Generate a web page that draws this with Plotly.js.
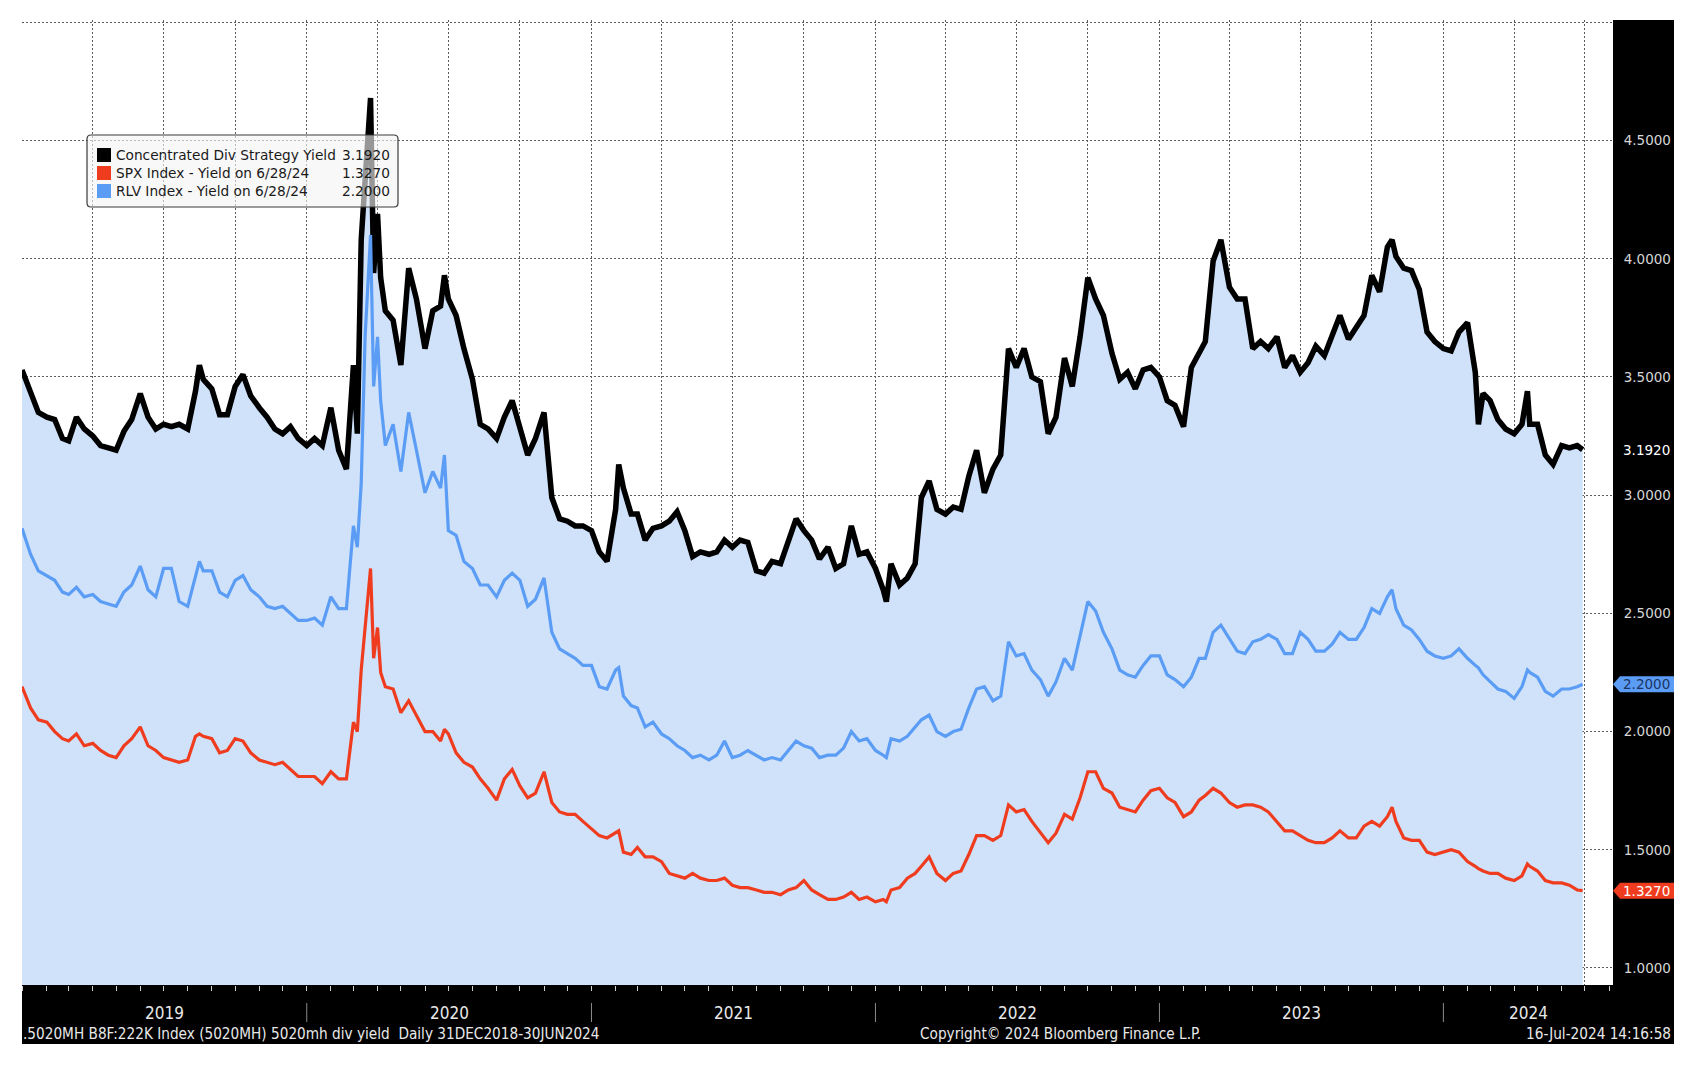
<!DOCTYPE html>
<html>
<head>
<meta charset="utf-8">
<script src="https://cdn.plot.ly/plotly-3.0.1.min.js"></script>
<style>
  html, body { margin: 0; padding: 0; background: #fff; }
  #chart { width: 1696px; height: 1071px; }
</style>
</head>
<body>
<div id="chart"></div>
<script>
// sample dates (roughly every 10 days, extra points on the spikes)
const dates = [
  '2018-12-31','2019-01-11','2019-01-21','2019-02-01','2019-02-11','2019-02-21','2019-03-01','2019-03-11','2019-03-21','2019-04-01',
  '2019-04-11','2019-04-21','2019-05-01','2019-05-11','2019-05-21','2019-06-01','2019-06-11','2019-06-21','2019-07-01','2019-07-11',
  '2019-07-21','2019-08-01','2019-08-11','2019-08-16','2019-08-21','2019-09-01','2019-09-11','2019-09-21','2019-10-01','2019-10-11',
  '2019-10-21','2019-11-01','2019-11-11','2019-11-21','2019-12-01','2019-12-11','2019-12-21',
  '2020-01-01','2020-01-11','2020-01-21','2020-02-01','2020-02-11','2020-02-21','2020-03-01','2020-03-06','2020-03-11','2020-03-16',
  '2020-03-23','2020-03-27','2020-04-01','2020-04-05','2020-04-11','2020-04-21','2020-05-01','2020-05-11','2020-05-21','2020-06-01',
  '2020-06-11','2020-06-21','2020-06-26','2020-07-01','2020-07-11','2020-07-21','2020-08-01','2020-08-11','2020-08-21','2020-09-01',
  '2020-09-11','2020-09-21','2020-10-01','2020-10-11','2020-10-21','2020-11-01','2020-11-11','2020-11-21','2020-12-01','2020-12-11',
  '2020-12-21',
  '2021-01-01','2021-01-11','2021-01-21','2021-02-01','2021-02-05','2021-02-11','2021-02-21','2021-03-01','2021-03-11','2021-03-21',
  '2021-04-01','2021-04-11','2021-04-21','2021-05-01','2021-05-11','2021-05-21','2021-06-01','2021-06-11','2021-06-21','2021-07-01',
  '2021-07-11','2021-07-21','2021-08-01','2021-08-11','2021-08-21','2021-09-01','2021-09-11','2021-09-21','2021-10-01','2021-10-11',
  '2021-10-21','2021-11-01','2021-11-11','2021-11-21','2021-12-01','2021-12-11','2021-12-21',
  '2022-01-01','2022-01-11','2022-01-15','2022-01-21','2022-02-01','2022-02-11','2022-02-21','2022-03-01','2022-03-11','2022-03-21',
  '2022-04-01','2022-04-11','2022-04-21','2022-05-01','2022-05-11','2022-05-21','2022-06-01','2022-06-11','2022-06-21','2022-07-01',
  '2022-07-11','2022-07-21','2022-08-01','2022-08-11','2022-08-21','2022-09-01','2022-09-11','2022-09-21','2022-10-01','2022-10-11',
  '2022-10-21','2022-11-01','2022-11-11','2022-11-21','2022-12-01','2022-12-11','2022-12-21',
  '2023-01-01','2023-01-11','2023-01-21','2023-02-01','2023-02-11','2023-02-21','2023-03-01','2023-03-11','2023-03-21','2023-04-01',
  '2023-04-11','2023-04-21','2023-05-01','2023-05-11','2023-05-21','2023-06-01','2023-06-11','2023-06-21','2023-07-01','2023-07-11',
  '2023-07-21','2023-08-01','2023-08-11','2023-08-21','2023-09-01','2023-09-11','2023-09-21','2023-10-01','2023-10-11','2023-10-21',
  '2023-10-27','2023-11-01','2023-11-11','2023-11-21','2023-12-01','2023-12-11','2023-12-21',
  '2024-01-01','2024-01-11','2024-01-21','2024-02-01','2024-02-11','2024-02-15','2024-02-21','2024-03-01','2024-03-11','2024-03-21',
  '2024-04-01','2024-04-11','2024-04-18','2024-04-21','2024-05-01','2024-05-11','2024-05-21','2024-06-01','2024-06-11','2024-06-21',
  '2024-06-28'
];

// Concentrated Div Strategy Yield
const stratYield = [
  3.53,3.43,3.35,3.33,3.32,3.24,3.23,3.33,3.28,3.25, 3.21,3.20,3.19,3.27,3.32,3.43,3.33,3.28,3.30,3.29,
  3.30,3.28,3.44,3.55,3.49,3.45,3.34,3.34,3.46,3.51, 3.42,3.37,3.33,3.28,3.26,3.29,3.24,
  3.21,3.24,3.21,3.37,3.19,3.11,3.55,3.26,4.08,4.30, 4.68,3.94,4.19,3.92,3.78,3.74,3.55,3.96,3.83,3.62,
  3.78,3.80,3.93,3.83,3.76,3.62,3.49,3.30,3.28,3.24, 3.33,3.40,3.29,3.17,3.24,3.35,2.99,2.90,2.89,2.87,
  2.87,
  2.85,2.76,2.72,2.94,3.13,3.03,2.92,2.92,2.81,2.86, 2.87,2.89,2.93,2.85,2.74,2.76,2.75,2.76,2.81,2.78,
  2.81,2.80,2.68,2.67,2.72,2.71,2.81,2.90,2.85,2.81, 2.73,2.78,2.69,2.71,2.87,2.75,2.76,
  2.69,2.60,2.55,2.71,2.62,2.65,2.71,2.99,3.06,2.94, 2.92,2.95,2.94,3.08,3.19,3.01,3.11,3.17,3.62,3.54,
  3.62,3.50,3.48,3.26,3.33,3.58,3.46,3.67,3.92,3.83, 3.76,3.60,3.49,3.52,3.45,3.53,3.54,
  3.50,3.40,3.38,3.29,3.54,3.60,3.65,3.99,4.08,3.88, 3.83,3.83,3.62,3.65,3.62,3.67,3.54,3.59,3.52,3.56,
  3.63,3.59,3.68,3.76,3.66,3.71,3.76,3.93,3.86,4.05, 4.08,4.01,3.96,3.95,3.87,3.69,3.65,
  3.62,3.61,3.69,3.73,3.52,3.30,3.43,3.40,3.32,3.28, 3.26,3.30,3.44,3.30,3.30,3.17,3.13,3.21,3.20,3.21,
  3.192
];

// SPX Index - Yield
const spxYield = [
  2.19,2.10,2.05,2.04,2.00,1.97,1.96,1.99,1.94,1.95, 1.92,1.90,1.89,1.94,1.97,2.02,1.94,1.92,1.89,1.88,
  1.87,1.88,1.98,1.99,1.98,1.97,1.91,1.92,1.97,1.96, 1.91,1.88,1.87,1.86,1.87,1.84,1.81,
  1.81,1.81,1.78,1.83,1.80,1.80,2.04,2.00,2.26,2.44, 2.69,2.31,2.44,2.25,2.19,2.18,2.08,2.13,2.07,2.00,
  2.00,1.96,2.01,1.99,1.91,1.87,1.85,1.80,1.76,1.71, 1.80,1.84,1.77,1.72,1.74,1.83,1.70,1.66,1.65,1.65,
  1.62,
  1.59,1.56,1.55,1.57,1.58,1.49,1.48,1.51,1.47,1.47, 1.45,1.40,1.39,1.38,1.40,1.38,1.37,1.37,1.38,1.35,
  1.34,1.34,1.33,1.32,1.32,1.31,1.33,1.34,1.37,1.33, 1.31,1.29,1.29,1.30,1.32,1.29,1.30,
  1.28,1.29,1.28,1.33,1.34,1.38,1.40,1.43,1.47,1.40, 1.37,1.40,1.41,1.48,1.56,1.56,1.54,1.56,1.69,1.66,
  1.67,1.62,1.57,1.53,1.57,1.65,1.63,1.72,1.83,1.83, 1.76,1.74,1.68,1.67,1.66,1.71,1.75,
  1.76,1.72,1.70,1.64,1.66,1.71,1.73,1.76,1.74,1.70, 1.68,1.69,1.69,1.68,1.66,1.62,1.58,1.58,1.56,1.54,
  1.53,1.53,1.55,1.58,1.55,1.55,1.60,1.62,1.60,1.64, 1.68,1.62,1.55,1.54,1.54,1.49,1.48,
  1.49,1.50,1.49,1.45,1.43,1.42,1.41,1.40,1.40,1.38, 1.37,1.39,1.44,1.43,1.41,1.37,1.36,1.36,1.35,1.33,
  1.327
];

// RLV Index - Yield
const rlvYield = [
  2.86,2.75,2.68,2.66,2.64,2.59,2.58,2.61,2.57,2.58, 2.55,2.54,2.53,2.59,2.62,2.70,2.60,2.57,2.69,2.69,
  2.55,2.53,2.66,2.72,2.68,2.68,2.59,2.57,2.64,2.66, 2.60,2.57,2.53,2.52,2.53,2.50,2.47,
  2.47,2.48,2.45,2.57,2.52,2.52,2.87,2.78,3.05,3.67, 4.10,3.46,3.67,3.40,3.21,3.30,3.10,3.35,3.19,3.01,
  3.10,3.03,3.17,2.85,2.83,2.72,2.69,2.62,2.62,2.57, 2.64,2.67,2.64,2.53,2.56,2.65,2.42,2.35,2.33,2.31,
  2.28,
  2.28,2.19,2.18,2.26,2.27,2.15,2.11,2.10,2.02,2.04, 1.99,1.97,1.94,1.92,1.89,1.90,1.88,1.90,1.96,1.89,
  1.90,1.92,1.90,1.88,1.89,1.88,1.92,1.96,1.94,1.93, 1.89,1.90,1.90,1.93,2.00,1.96,1.97,
  1.92,1.90,1.89,1.97,1.96,1.98,2.02,2.05,2.07,2.00, 1.98,2.00,2.01,2.10,2.18,2.19,2.13,2.15,2.38,2.32,
  2.33,2.26,2.22,2.15,2.21,2.31,2.26,2.40,2.55,2.51, 2.42,2.35,2.26,2.24,2.23,2.28,2.32,
  2.32,2.24,2.22,2.19,2.23,2.31,2.31,2.42,2.45,2.39, 2.34,2.33,2.38,2.39,2.41,2.39,2.33,2.33,2.42,2.39,
  2.34,2.34,2.37,2.42,2.39,2.39,2.44,2.52,2.50,2.57, 2.60,2.52,2.45,2.43,2.39,2.34,2.32,
  2.31,2.32,2.35,2.31,2.28,2.27,2.24,2.21,2.18,2.17, 2.14,2.19,2.26,2.25,2.23,2.17,2.15,2.18,2.18,2.19,
  2.20
];

const seriesNames = ['Concentrated Div Strategy Yield', 'SPX Index - Yield on 6/28/24', 'RLV Index - Yield on 6/28/24'];
const seriesColors = ['#000000', '#f03c1e', '#5b9cf5'];
const yTickVals = [1.0, 1.5, 2.0, 2.5, 3.0, 3.5, 4.0, 4.5, 5.0];
const years = ['2019', '2020', '2021', '2022', '2023', '2024'];
const xRange = ['2018-12-31', '2024-08-06'];

const footLeft = '.5020MH B8F:222K Index (5020MH) 5020mh div yield\u00a0\u00a0Daily 31DEC2018-30JUN2024';
const footMid = 'Copyright\u00a9 2024 Bloomberg Finance L.P.';
const footRight = '16-Jul-2024 14:16:58';

// page geometry (pixels)
const W = 1696, H = 1071;
const L = 22, R = 1613, T = 20, B = 985;
const yMin = 0.928, yMax = 5.01;
const px = x => (x - L) / (R - L);
const py = y => (B - y) / (B - T);
const valPx = v => T + (yMax - v) / (yMax - yMin) * (B - T);

const narrow = 'Liberation Sans Narrow, DejaVu Sans Condensed, Liberation Sans, sans-serif';
const tahoma = 'DejaVu Sans, sans-serif';

const traces = [
  {
    x: dates, y: stratYield, type: 'scatter', mode: 'lines', name: seriesNames[0],
    line: {color: seriesColors[0], width: 5.5}, fill: 'tozeroy', fillcolor: '#cfe2fa'
  },
  {
    x: dates, y: rlvYield, type: 'scatter', mode: 'lines', name: seriesNames[2],
    line: {color: seriesColors[2], width: 3.2}
  },
  {
    x: dates, y: spxYield, type: 'scatter', mode: 'lines', name: seriesNames[1],
    line: {color: seriesColors[1], width: 3.2}
  }
];

const shapes = [];
const annotations = [];

// black frame: right panel + bottom band
shapes.push({type: 'rect', xref: 'paper', yref: 'paper', layer: 'below',
  x0: px(1613), x1: px(1674), y0: py(1044), y1: py(T), fillcolor: '#000', line: {width: 0}});
shapes.push({type: 'rect', xref: 'paper', yref: 'paper', layer: 'below',
  x0: px(L), x1: px(1674), y0: py(1044), y1: py(B), fillcolor: '#000', line: {width: 0}});

// year labels (centred on the visible part of each year) and separators
const toMs = d => new Date(d + 'T00:00:00Z').getTime();
const msToDate = ms => new Date(ms).toISOString().slice(0, 10);
years.forEach((yr, i) => {
  const a = Math.max(toMs(yr + '-01-01'), toMs(xRange[0]));
  const b = Math.min(toMs((+yr + 1) + '-01-01'), toMs(xRange[1]));
  annotations.push({xref: 'x', yref: 'paper', x: msToDate((a + b) / 2), y: py(1013), text: yr, showarrow: false,
    xanchor: 'center', yanchor: 'middle', font: {family: narrow, size: 17, color: '#e8e8e8'}});
  if (i > 0) {
    shapes.push({type: 'line', xref: 'x', yref: 'paper', x0: yr + '-01-01', x1: yr + '-01-01',
      y0: py(1022), y1: py(1003), line: {color: '#8a8a8a', width: 1}});
  }
});

// footer
annotations.push({xref: 'paper', yref: 'paper', x: px(21), y: py(1034), text: footLeft, showarrow: false,
  xanchor: 'left', yanchor: 'middle', font: {family: narrow, size: 15.2, color: '#e8e8e8'}});
annotations.push({xref: 'paper', yref: 'paper', x: px(1060), y: py(1034), text: footMid, showarrow: false,
  xanchor: 'center', yanchor: 'middle', font: {family: narrow, size: 15.2, color: '#e8e8e8'}});
annotations.push({xref: 'paper', yref: 'paper', x: px(1673), y: py(1034), text: footRight, showarrow: false,
  xanchor: 'right', yanchor: 'middle', font: {family: narrow, size: 15.2, color: '#e8e8e8'}});

// last-value tags on the right axis
const lastStrat = stratYield[stratYield.length - 1];
const lastSpx = spxYield[spxYield.length - 1];
const lastRlv = rlvYield[rlvYield.length - 1];

function tag(v, fill, textColor) {
  const y = valPx(v);
  if (fill) {
    const path = 'M' + px(1613) + ',' + py(y) +
      ' L' + px(1620) + ',' + py(y - 8) +
      ' L' + px(1674) + ',' + py(y - 8) +
      ' L' + px(1674) + ',' + py(y + 8) +
      ' L' + px(1620) + ',' + py(y + 8) + ' Z';
    shapes.push({type: 'path', xref: 'paper', yref: 'paper', layer: 'above', path: path,
      fillcolor: fill, line: {width: 0}});
  }
  annotations.push({xref: 'paper', yref: 'paper', x: px(1621), y: py(y), text: v.toFixed(4), showarrow: false,
    xanchor: 'left', yanchor: 'middle', font: {family: tahoma, size: 13.5, color: textColor}});
}
tag(lastStrat, null, '#ffffff');
tag(lastRlv, seriesColors[2], '#1d3461');
tag(lastSpx, seriesColors[1], '#ffffff');

// legend box
function roundRect(x0, y0, x1, y1, r) {
  const P = (x, y) => px(x) + ',' + py(y);
  return 'M' + P(x0 + r, y0) + ' L' + P(x1 - r, y0) + ' Q' + P(x1, y0) + ' ' + P(x1, y0 + r) +
    ' L' + P(x1, y1 - r) + ' Q' + P(x1, y1) + ' ' + P(x1 - r, y1) +
    ' L' + P(x0 + r, y1) + ' Q' + P(x0, y1) + ' ' + P(x0, y1 - r) +
    ' L' + P(x0, y0 + r) + ' Q' + P(x0, y0) + ' ' + P(x0 + r, y0) + ' Z';
}
shapes.push({type: 'path', xref: 'paper', yref: 'paper', layer: 'above',
  path: roundRect(87, 135, 398, 207, 4), fillcolor: 'rgba(244,244,244,0.62)', line: {color: '#3a3a3a', width: 1.2}});

const legendVals = [lastStrat, lastSpx, lastRlv];
const legendColors = [seriesColors[0], seriesColors[1], seriesColors[2]];
[155, 173, 191].forEach((cy, i) => {
  shapes.push({type: 'rect', xref: 'paper', yref: 'paper', layer: 'above',
    x0: px(97), x1: px(111), y0: py(cy + 7), y1: py(cy - 7), fillcolor: legendColors[i], line: {width: 0}});
  annotations.push({xref: 'paper', yref: 'paper', x: px(114), y: py(cy), text: seriesNames[i], showarrow: false,
    xanchor: 'left', yanchor: 'middle', font: {family: tahoma, size: 13.7, color: '#1a1a1a'}});
  annotations.push({xref: 'paper', yref: 'paper', x: px(392), y: py(cy), text: legendVals[i].toFixed(4), showarrow: false,
    xanchor: 'right', yanchor: 'middle', font: {family: tahoma, size: 13.7, color: '#1a1a1a'}});
});

const layout = {
  width: W, height: H,
  margin: {l: L, r: W - R, t: T, b: H - B, pad: 0},
  paper_bgcolor: '#ffffff', plot_bgcolor: '#ffffff',
  showlegend: false, hovermode: false,
  xaxis: {
    type: 'date', range: xRange,
    tick0: '2019-01-01', dtick: 'M3',
    showgrid: true, gridcolor: '#5a5a5a', griddash: '2px,2px', gridwidth: 1,
    ticks: 'outside', ticklen: 5, tickcolor: '#d0d0d0', tickwidth: 1,
    showticklabels: false, zeroline: false, showline: false,
    minor: {dtick: 'M1', ticks: 'outside', ticklen: 5, tickcolor: '#d0d0d0', tickwidth: 1, showgrid: false}
  },
  yaxis: {
    side: 'right', range: [yMin, yMax],
    tickvals: yTickVals, ticktext: yTickVals.map(v => v < 5 ? v.toFixed(4) : ''),
    showgrid: true, gridcolor: '#5a5a5a', griddash: '2px,2px', gridwidth: 1,
    ticks: 'outside', ticklen: 7, tickcolor: '#000000',
    tickfont: {family: tahoma, size: 13.5, color: '#d6d6d6'},
    zeroline: false, showline: false
  },
  shapes: shapes,
  annotations: annotations
};

Plotly.newPlot('chart', traces, layout, {staticPlot: true, displayModeBar: false});
</script>
</body>
</html>
